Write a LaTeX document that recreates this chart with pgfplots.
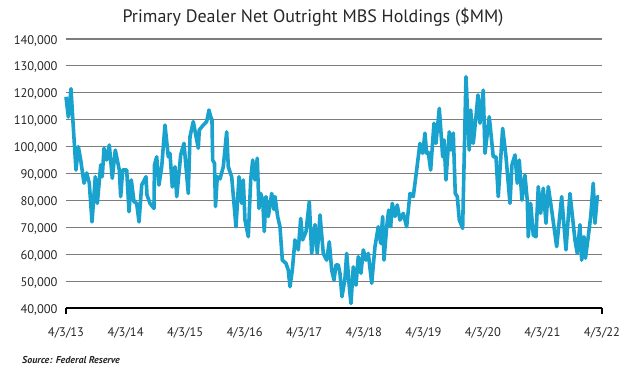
\documentclass[border=0pt]{standalone}
\usepackage{pgfplots}
\pgfplotsset{compat=1.18}
\usepackage{fontspec}
\setmainfont{PT Sans}
\definecolor{mbsblue}{RGB}{26,162,206}
\definecolor{gridgray}{RGB}{125,125,125}
\begin{document}
\begin{tikzpicture}
\path[use as bounding box] (0pt,0pt) rectangle (626pt,375pt);
\begin{axis}[
  at={(66pt,67pt)}, anchor=south west,
  width=536pt, height=269pt, scale only axis,
  xmin=0, xmax=9, ymin=40000, ymax=140000,
  axis x line*=bottom, axis y line*=left,
  y axis line style={draw=none},
  x axis line style={black, line width=1.5pt, -},
  xtick={0,1,...,9},
  xticklabels={4/3/13,4/3/14,4/3/15,4/3/16,4/3/17,4/3/18,4/3/19,4/3/20,4/3/21,4/3/22},
  major tick length=0pt,
  extra x ticks={0,9}, extra x tick labels={},
  extra x tick style={major tick length=6pt, tick align=outside, tick style={black, line width=1.5pt}},
  ytick={40000,50000,...,140000},
  ymajorgrids, grid style={gridgray, line width=1.2pt},
  scaled y ticks=false,
  /pgf/number format/.cd, fixed, 1000 sep={,}, assume math mode=true,
  /pgfplots/.cd,
  ticklabel style={font=\fontsize{12.5}{14}\selectfont, text=black!85},
  yticklabel style={xshift=-5pt, yshift=-1.5pt},
  xticklabel style={yshift=-16pt},
  clip=false,
]
\addplot[mbsblue, line width=3.6pt, line join=round] coordinates {
(0,118.5e3)(0.039,111e3)(0.084,121.5e3)(0.112,111e3)(0.168,91.3e3)(0.207,100e3)(0.247,95e3)(0.302,86.4e3)(0.348,90.2e3)(0.391,86.4e3)(0.437,72e3)(0.492,88.8e3)(0.526,78.9e3)(0.583,93.2e3)(0.609,88.8e3)(0.638,99.4e3)(0.683,95e3)(0.727,100.6e3)(0.777,88.2e3)(0.828,98.7e3)(0.895,91.3e3)(0.918,81.4e3)(0.952,91.3e3)(1.019,91.3e3)(1.058,75.8e3)(1.096,87.6e3)(1.142,79.5e3)(1.187,78.9e3)(1.226,72e3)(1.271,85.7e3)(1.343,88.8e3)(1.360,82e3)(1.410,78.9e3)(1.477,77e3)(1.486,93.2e3)(1.523,96.2e3)(1.561,85.7e3)(1.607,92.5e3)(1.662,108e3)(1.718,96.2e3)(1.746,97.5e3)(1.785,85e3)(1.830,92.5e3)(1.859,81.4e3)(1.926,96.9e3)(1.981,101.2e3)(2.053,82.6e3)(2.082,103.7e3)(2.137,109.3e3)(2.221,99.4e3)(2.238,106.2e3)(2.305,108e3)(2.362,109.3e3)(2.401,113.6e3)(2.430,111.1e3)(2.451,110e3)(2.463,95e3)(2.493,93.8e3)(2.510,77.7e3)(2.540,88.8e3)(2.586,88e3)(2.641,92.5e3)(2.698,105.5e3)(2.725,92.5e3)(2.782,88.8e3)(2.854,70.2e3)(2.905,88.8e3)(2.950,78.9e3)(2.977,87.6e3)(3.005,72.7e3)(3.061,66.5e3)(3.101,87.6e3)(3.135,95e3)(3.173,87.6e3)(3.212,95.7e3)(3.240,77e3)(3.269,82.6e3)(3.303,80.1e3)(3.329,68.4e3)(3.358,81.4e3)(3.397,74e3)(3.454,82.6e3)(3.492,76.6e3)(3.509,81.4e3)(3.554,74e3)(3.593,70.2e3)(3.632,57.8e3)(3.694,56.6e3)(3.732,54.1e3)(3.761,47.9e3)(3.800,54.1e3)(3.845,65.3e3)(3.900,61.6e3)(3.941,73.3e3)(3.974,65.3e3)(4.030,68.4e3)(4.085,79.5e3)(4.125,60.3e3)(4.181,71e3)(4.219,60.3e3)(4.265,74.6e3)(4.320,60.3e3)(4.377,57.8e3)(4.421,64.6e3)(4.461,54.1e3)(4.500,50.4e3)(4.533,56e3)(4.572,56e3)(4.600,52.9e3)(4.634,44.2e3)(4.684,51e3)(4.713,60.3e3)(4.757,47.9e3)(4.785,41.7e3)(4.824,55.3e3)(4.869,48.5e3)(4.908,59.1e3)(4.953,52.9e3)(4.992,61.6e3)(5.037,57.8e3)(5.076,60.3e3)(5.133,49.2e3)(5.188,62.8e3)(5.243,70.2e3)(5.284,64e3)(5.317,74e3)(5.339,57.8e3)(5.385,70.2e3)(5.418,76.4e3)(5.452,70.2e3)(5.478,78.9e3)(5.524,74e3)(5.562,78.3e3)(5.608,72.7e3)(5.663,75.2e3)(5.720,70.2e3)(5.776,82.6e3)(5.831,81.4e3)(5.888,91.3e3)(5.943,101.2e3)(5.989,97.5e3)(6.027,105e3)(6.056,97.5e3)(6.083,97.9e3)(6.123,91.3e3)(6.179,108.7e3)(6.212,101.2e3)(6.268,114.2e3)(6.325,96.2e3)(6.347,102.5e3)(6.380,87.6e3)(6.436,105.5e3)(6.464,98.7e3)(6.503,105e3)(6.536,82.6e3)(6.570,81.4e3)(6.604,72.7e3)(6.660,69.6e3)(6.716,126e3)(6.738,114.8e3)(6.771,98.7e3)(6.795,113.6e3)(6.838,101.2e3)(6.884,111.1e3)(6.917,119.2e3)(6.951,108.7e3)(7.006,121e3)(7.035,97.5e3)(7.107,111.1e3)(7.174,96.2e3)(7.220,96.2e3)(7.258,81.4e3)(7.332,106.8e3)(7.388,96.2e3)(7.455,78.9e3)(7.488,93.2e3)(7.539,96.9e3)(7.577,86.4e3)(7.611,95e3)(7.656,80.1e3)(7.706,89.4e3)(7.745,80.1e3)(7.762,66.5e3)(7.802,78.9e3)(7.846,67.1e3)(7.891,66.5e3)(7.930,85.1e3)(7.970,75.2e3)(8.014,84.5e3)(8.059,71.5e3)(8.098,85.1e3)(8.155,76.4e3)(8.239,62.8e3)(8.323,81.4e3)(8.395,61.6e3)(8.462,82.6e3)(8.546,65.3e3)(8.585,60.3e3)(8.630,71e3)(8.659,57.8e3)(8.697,66.5e3)(8.722,58.5e3)(8.769,66.5e3)(8.810,74e3)(8.853,86.4e3)(8.882,71.5e3)(8.921,81.4e3)(8.949,81.4e3)
};
\end{axis}
\node[font=\fontsize{18}{21}\selectfont, text=black!85] at (313pt,358pt) {Primary Dealer Net Outright MBS Holdings (\$MM)};
\node[anchor=west, font=\fontsize{10}{12}\selectfont\bfseries\itshape, text=black!85, inner sep=0pt] at (22pt,15pt) {Source: Federal Reserve};
\end{tikzpicture}
\end{document}
